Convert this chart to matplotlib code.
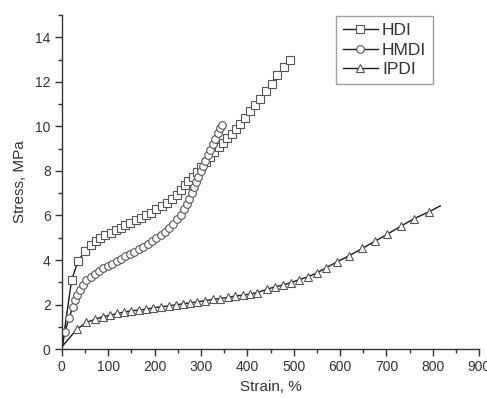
import matplotlib
matplotlib.use("Agg")
import matplotlib.pyplot as plt
from matplotlib.ticker import MultipleLocator

# ---- data ----
hdi_strain = [0, 21, 35, 50, 62, 73, 83, 94, 105, 116, 127, 137, 148, 160, 171, 181,
              192, 204, 215, 226, 237, 248, 256, 265, 273, 282, 291, 300, 310, 319,
              329, 339, 348, 357, 366, 375, 384, 395, 406, 416, 427, 440, 453, 465,
              478, 492]
hdi_stress = [0, 3.1, 3.95, 4.4, 4.67, 4.85, 4.97, 5.11, 5.23, 5.34, 5.44, 5.56, 5.67,
              5.79, 5.89, 6.01, 6.13, 6.27, 6.42, 6.56, 6.73, 6.91, 7.13, 7.36, 7.54,
              7.75, 7.97, 8.2, 8.42, 8.64, 8.86, 9.07, 9.27, 9.47, 9.67, 9.88, 10.1,
              10.4, 10.7, 10.98, 11.25, 11.6, 11.92, 12.3, 12.67, 13.0]

hmdi_strain = [0, 6.5, 16, 23, 28, 33, 39, 46, 53, 62, 71, 80, 89, 99, 109, 118, 127,
               137, 147, 156, 166, 176, 185, 195, 204, 214, 223, 232, 240, 249, 256,
               263, 269, 275, 281, 285, 289, 294, 299, 304, 309, 315, 320, 326, 331,
               336, 341, 345]
hmdi_stress = [0, 0.78, 1.4, 1.87, 2.2, 2.42, 2.65, 2.87, 3.1, 3.25, 3.39, 3.51, 3.62,
               3.72, 3.84, 3.95, 4.05, 4.16, 4.26, 4.37, 4.49, 4.59, 4.71, 4.85, 4.97,
               5.11, 5.26, 5.43, 5.61, 5.82, 6.04, 6.27, 6.5, 6.76, 7.01, 7.28, 7.5,
               7.74, 7.98, 8.22, 8.46, 8.72, 8.96, 9.2, 9.45, 9.7, 9.92, 10.05]

ipdi_strain = [0, 2, 32, 53, 71, 88, 104, 119, 135, 150, 166, 181, 197, 214, 230, 246,
               262, 276, 292, 309, 325, 341, 358, 373, 390, 406, 420, 442, 460, 476,
               494, 512, 530, 550, 570, 594, 619, 648, 676, 702, 731, 760, 791, 816]
ipdi_stress = [0, 0.15, 0.88, 1.2, 1.33, 1.45, 1.52, 1.6, 1.66, 1.72, 1.75, 1.79, 1.85,
               1.9, 1.94, 1.99, 2.03, 2.08, 2.12, 2.17, 2.23, 2.27, 2.32, 2.38, 2.42,
               2.47, 2.53, 2.68, 2.8, 2.87, 2.98, 3.12, 3.24, 3.42, 3.66, 3.92, 4.19,
               4.52, 4.85, 5.16, 5.52, 5.86, 6.16, 6.43]

series_names = ["HDI", "HMDI", "IPDI"]
x_ticks = [0, 100, 200, 300, 400, 500, 600, 700, 800, 900]
y_ticks = [0, 2, 4, 6, 8, 10, 12, 14]

plt.rcParams['font.family'] = ['Liberation Sans', 'DejaVu Sans']

fig = plt.figure(figsize=(4.87, 3.98), dpi=100)
ax = fig.add_axes([0.127, 0.123, 0.857, 0.839])

line_c = "#1a1a1a"
edge_c = "#555555"
common = dict(color=line_c, lw=1.0, markerfacecolor="white", markeredgecolor=edge_c,
              markeredgewidth=0.8)

ax.plot(hdi_strain, hdi_stress, marker="s", markersize=5.2,
        markevery=list(range(1, len(hdi_strain))), label=series_names[0], **common)
ax.plot(hmdi_strain, hmdi_stress, marker="o", markersize=5.5,
        markevery=list(range(1, len(hmdi_strain))), label=series_names[1], **common)
ax.plot(ipdi_strain, ipdi_stress, marker="^", markersize=5.8,
        markevery=list(range(2, len(ipdi_strain) - 1)), label=series_names[2], **common)

ax.set_xlim(0, 900)
ax.set_ylim(0, 15)
ax.set_xticks(x_ticks)
ax.set_yticks(y_ticks)
ax.xaxis.set_minor_locator(MultipleLocator(50))
ax.yaxis.set_minor_locator(MultipleLocator(1))

for s in ["top", "right"]:
    ax.spines[s].set_visible(False)
for s in ["left", "bottom"]:
    ax.spines[s].set_color("#333333")
    ax.spines[s].set_linewidth(1.0)

ax.tick_params(which="major", direction="out", length=5, width=1.0, color="#333333",
               labelsize=10, labelcolor="#333333", pad=3)
ax.tick_params(which="minor", direction="out", length=3, width=1.0, color="#333333")

ax.set_xlabel("Strain, %", fontsize=11, color="#333333", labelpad=4)
ax.set_ylabel("Stress, MPa", fontsize=11, color="#333333", labelpad=6)

leg = ax.legend(loc="upper left", bbox_to_anchor=(0.657, 0.997), fontsize=12.5,
                frameon=True, fancybox=False, handlelength=2.0, handletextpad=0.25,
                borderpad=0.4, labelspacing=0.25, borderaxespad=0.0)
leg.get_frame().set_edgecolor("#888888")
leg.get_frame().set_linewidth(1.0)
for t in leg.get_texts():
    t.set_color("#333333")

fig.savefig("out.png", dpi=100)
